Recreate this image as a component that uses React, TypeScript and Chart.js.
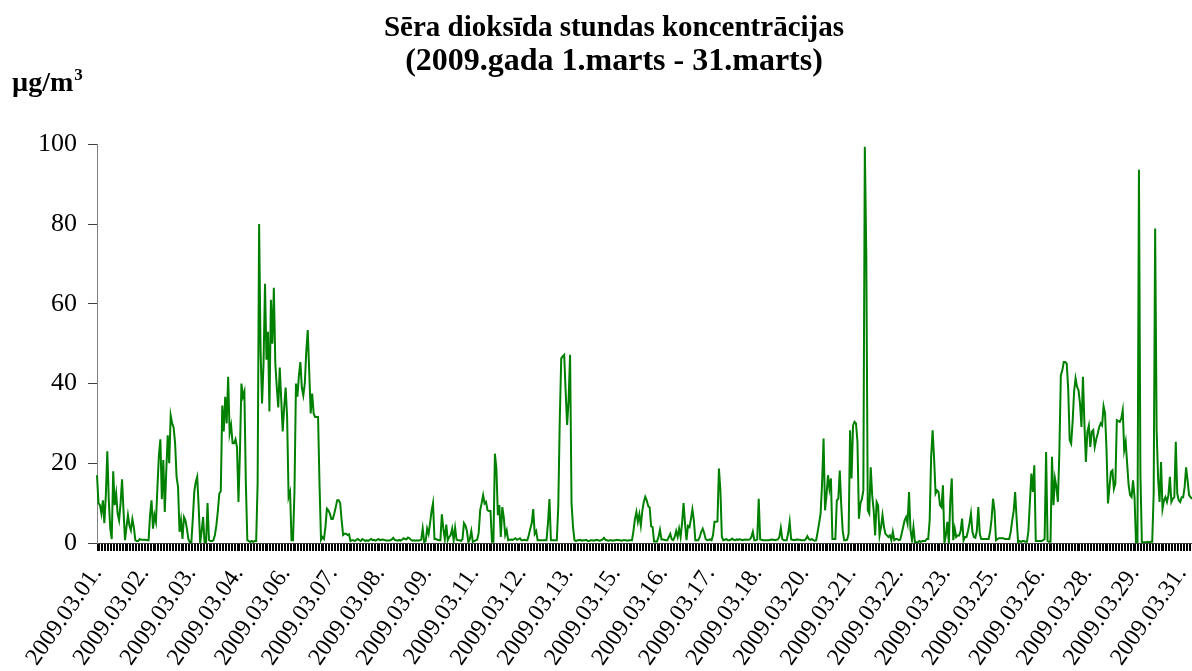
import { useEffect, useRef } from 'react';
import { Chart, registerables } from 'chart.js';

Chart.register(...registerables);

const TITLE = 'Sēra dioksīda stundas koncentrācijas';
const SUBTITLE = '(2009.gada 1.marts - 31.marts)';
const UNIT = 'µg/m';
const UNIT_SUP = '3';

// Tick labels shown along the category axis (one every LABEL_STEP hours)
const tickLabels = [
  '2009.03.01.', '2009.03.02.', '2009.03.03.', '2009.03.04.', '2009.03.06.', '2009.03.07.',
  '2009.03.08.', '2009.03.09.', '2009.03.11.', '2009.03.12.', '2009.03.13.', '2009.03.15.',
  '2009.03.16.', '2009.03.17.', '2009.03.18.', '2009.03.20.', '2009.03.21.', '2009.03.22.',
  '2009.03.23.', '2009.03.25.', '2009.03.26.', '2009.03.28.', '2009.03.29.', '2009.03.31.',
];
const LABEL_STEP = 32;

// Hourly SO2 concentrations (µg/m³), one array per day, 24 values each
const mar01 = [17, 10, 9.5, 7.4, 10.7, 5, 12, 23, 10.7, 3.6, 1, 18, 9.5, 12.4, 7.4, 5.7, 10, 16, 8, 0.7, 4, 7, 4.4, 3.2];
const mar02 = [6, 4, 0.7, 0.5, 0.5, 1, 0.8, 0.8, 0.8, 0.8, 0.7, 0.7, 7, 10.7, 3.6, 7, 5.3, 14, 22, 26, 11, 20.8, 7.8, 18];
const mar03 = [27, 20, 32, 30, 29, 25, 16.6, 14, 2.8, 5.7, 1, 6.5, 5.7, 3.6, 1, 0.2, 0, 6, 12.8, 15.3, 16.6, 9, 0, 3];
const mar04 = [6.5, 0, 0, 10, 0.7, 0.5, 0.5, 0.7, 2, 4.4, 8, 12.4, 13, 34.5, 28, 36.7, 30, 41.7, 27.5, 29.5, 25, 25, 26, 24];
const mar05 = [10.3, 23, 40, 36.7, 38, 15, 0.7, 0.5, 0.3, 0.5, 0.3, 0.5, 0.5, 15, 80, 48, 35, 45, 65, 46, 53, 33, 61, 50];
const mar06 = [64, 45, 39, 34, 44, 36, 28, 34, 39, 31.6, 11.5, 12.8, 0.7, 0.7, 13, 40, 36.7, 42, 45.4, 39, 37, 40, 48, 53.4];
const mar07 = [43, 32.5, 37.5, 32.5, 31.6, 31.6, 31.6, 14.5, 0.8, 1.5, 1, 4, 8.6, 8.2, 7.4, 6, 6, 7.4, 9, 10.7, 10.7, 10, 5.7, 2];
const mar08 = [2.3, 2.3, 2, 2.2, 0.5, 0.7, 0.7, 0.5, 0.8, 1, 0.7, 0.5, 1, 0.8, 0.5, 0.7, 0.5, 0.8, 1, 0.7, 0.8, 0.6, 0.8, 1];
const mar09 = [0.7, 0.8, 0.9, 0.8, 0.6, 0.6, 0.6, 0.7, 0.9, 1.3, 0.8, 0.7, 0.6, 0.8, 0.6, 0.8, 1.2, 1, 0.9, 1.4, 1.2, 0.8, 0.6, 0.7];
const mar10 = [0.6, 0.7, 0.6, 0.7, 0.8, 3.6, 0.2, 0.5, 3.6, 2.3, 5, 8, 10, 1, 1, 0.8, 0.7, 0.7, 7.2, 3.6, 1, 4.6, 0.7, 1.5];
const mar11 = [2, 3.6, 0.7, 3.8, 0.8, 0.7, 0.7, 0.5, 1, 5, 4.4, 3, 0.2, 1, 3, 0.3, 0.5, 0.7, 0.8, 2.6, 8.2, 10, 12, 9.9];
const mar12 = [10.3, 8.2, 8, 8, 0.3, 0.3, 22.4, 18.7, 7, 9.5, 1.5, 9, 6.5, 2, 3.2, 0.7, 0.8, 0.9, 0.8, 1, 1.2, 0.8, 1, 1.2];
const mar13 = [0.7, 0.7, 0.8, 0.7, 0.7, 2, 3.6, 5, 8.5, 2.3, 3, 0.7, 0.7, 0.7, 0.7, 0.7, 0.7, 0.7, 5, 11, 0.7, 0.7, 0.7, 0.7];
const mar14 = [0.7, 9.3, 30.8, 46.3, 46.8, 47.2, 38, 29.6, 35.8, 47.2, 9.9, 4, 0.7, 0.5, 0.7, 0.7, 0.8, 0.6, 0.7, 0.7, 0.8, 0.5, 0.5, 0.7];
const mar15 = [0.7, 0.6, 0.7, 0.8, 0.7, 0.6, 0.7, 0.9, 1.3, 0.8, 0.7, 0.6, 0.7, 0.7, 0.6, 0.7, 0.7, 0.8, 0.7, 0.7, 0.6, 0.7, 0.7, 0.7];
const mar16 = [0.6, 0.7, 0.7, 0.7, 3, 6, 7.8, 5.3, 7.2, 4.4, 8, 10.3, 11.6, 10.7, 9.3, 8.9, 4.2, 4, 0.4, 0.4, 0.4, 1.5, 3.3, 0.9];
const mar17 = [0.9, 0.8, 0.7, 0.7, 1.5, 2.3, 0.9, 0.7, 1.5, 3, 1.5, 3.6, 1.5, 5, 10, 4.9, 0.7, 4.3, 4, 6, 8.4, 5.7, 0.7, 0.7];
const mar18 = [0.7, 1.5, 2.8, 3.6, 2.5, 1, 0.7, 0.8, 0.9, 0.7, 2, 5.3, 5.3, 5.4, 18.7, 13.2, 1.5, 0.7, 0.8, 1, 0.7, 0.7, 0.8, 1.1];
const mar19 = [0.8, 0.7, 0.9, 0.8, 1, 0.8, 0.7, 0.8, 0.9, 0.8, 0.8, 0.9, 1.5, 2.8, 0.7, 0.7, 0.9, 11.1, 0.9, 0.8, 0.7, 0.7, 0.7, 0.7];
const mar20 = [0.7, 0.8, 0.9, 0.8, 0.7, 0.8, 0.9, 1.5, 3.8, 1, 0.7, 0.7, 0.7, 2.5, 5.3, 0.9, 0.8, 0.7, 0.8, 0.9, 0.8, 0.8, 0.7, 0.7];
const mar21 = [0.7, 1, 1.7, 1, 0.8, 1, 0.7, 0.6, 0.7, 2.8, 5, 7.4, 15, 26.2, 8.2, 12, 17, 13.6, 16.2, 1, 1, 1, 10.7, 11.1];
const mar22 = [18.2, 9.5, 3, 0.7, 0.7, 0.8, 2.3, 28.3, 16.2, 29.5, 30.4, 30, 25.4, 6.1, 9.9, 11, 13.2, 99.4, 72, 8.2, 7.4, 19, 12, 8.2];
const mar23 = [1.9, 10.3, 9.5, 1.9, 4, 7, 4, 2.3, 1.9, 1.5, 1.9, 0.7, 2.8, 0.7, 1, 1, 0.7, 0.8, 2.3, 4, 5.7, 6.5, 4.9, 12.8];
const mar24 = [3.2, 0.7, 4, 0.2, 0.2, 0.2, 0.5, 0.3, 0.5, 0.5, 0.5, 1, 1, 5.7, 21.6, 28.3, 21.2, 12.4, 13.2, 12.8, 9.5, 9, 14.5, 0];
const mar25 = [2, 5.3, 0, 10.7, 16.2, 0.7, 3.6, 1.5, 1.9, 1.9, 3, 6.1, 0.7, 1.5, 1.5, 3, 4.9, 7.4, 2.8, 1.5, 1.3, 3, 9, 2.3];
const mar26 = [1, 1, 1, 1, 1, 1, 2.8, 6, 11.1, 8.2, 0.7, 1, 1.2, 1.2, 1.2, 1.2, 1, 1, 1, 1, 2.8, 5.7, 8, 12.8];
const mar27 = [6.1, 0.2, 0.5, 0.3, 0.5, 0.5, 0.3, 0.3, 3, 10.3, 17.4, 12.8, 19.5, 0.5, 0.5, 0.5, 0.5, 0.5, 0.7, 1, 22.8, 0.5, 0.3, 0.3];
const mar28 = [21.6, 9.5, 16.2, 14, 10.3, 22.8, 42.1, 43.3, 45.4, 45.4, 45, 38.7, 25.8, 24.9, 30.4, 38, 41.3, 39.2, 38.3, 35, 29.1, 41.7, 30, 20.3];
const mar29 = [27.9, 29.5, 24.1, 27.9, 28.3, 24.1, 26, 27.4, 29, 30, 29.5, 34.3, 32.5, 23.3, 9.9, 14, 17.8, 18.2, 13.6, 14.9, 30.8, 30.6, 30.4, 31.2];
const mar30 = [33.3, 23.3, 25.4, 19.9, 14.5, 12, 11.5, 15.7, 11.5, 0.2, 0.2, 93.6, 17, 0, 0.2, 0.2, 0.2, 0.3, 0.2, 0.3, 0.3, 12.4, 78.9, 28.3];
const mar31 = [16.2, 10.3, 20.3, 8.6, 10.7, 11.5, 10.3, 12, 16.6, 10.3, 11.1, 11.5, 25.4, 12.4, 10.7, 10.3, 11.5, 11.5, 14, 19, 15.7, 12, 11.5, 11.1];

const hourly = [
  ...mar01, ...mar02, ...mar03, ...mar04, ...mar05, ...mar06, ...mar07, ...mar08,
  ...mar09, ...mar10, ...mar11, ...mar12, ...mar13, ...mar14, ...mar15, ...mar16,
  ...mar17, ...mar18, ...mar19, ...mar20, ...mar21, ...mar22, ...mar23, ...mar24,
  ...mar25, ...mar26, ...mar27, ...mar28, ...mar29, ...mar30, ...mar31,
];

const Y_MIN = 0;
const Y_MAX = 100;
const Y_STEP = 20;

const FONT = '"Liberation Serif", "Times New Roman", serif';

const unitPlugin = {
  id: 'unitLabel',
  afterDraw(chart: any) {
    const ctx = chart.ctx as CanvasRenderingContext2D;
    ctx.save();
    ctx.fillStyle = '#000';
    ctx.textAlign = 'left';
    ctx.textBaseline = 'alphabetic';
    ctx.font = `bold 28px ${FONT}`;
    ctx.fillText(UNIT, 12, 91);
    const w = ctx.measureText(UNIT).width;
    ctx.font = `bold 17px ${FONT}`;
    ctx.fillText(UNIT_SUP, 12 + w + 1, 80);
    ctx.restore();
  },
};

export default function App() {
  const ref = useRef<HTMLCanvasElement>(null);

  useEffect(() => {
    document.body.style.margin = '0';
    const canvas = ref.current;
    if (!canvas) return;
    const labels = hourly.map((_, i) => String(i));
    const chart = new Chart(canvas, {
      type: 'line',
      data: {
        labels,
        datasets: [
          {
            data: hourly,
            borderColor: '#008000',
            borderWidth: 2,
            pointRadius: 0,
            pointHoverRadius: 0,
            tension: 0,
            fill: false,
          },
        ],
      },
      options: {
        animation: false,
        responsive: false,
        maintainAspectRatio: false,
        events: [],
        layout: { padding: { left: 36, right: 0, top: 0, bottom: 0 } },
        plugins: {
          legend: { display: false },
          tooltip: { enabled: false },
          title: {
            display: true,
            text: TITLE,
            color: '#000',
            font: { family: FONT, size: 29, weight: 'bold', lineHeight: 1.15 },
            padding: { top: 12, bottom: 0 },
          },
          subtitle: {
            display: true,
            text: SUBTITLE,
            color: '#000',
            font: { family: FONT, size: 32, weight: 'bold', lineHeight: 1.0 },
            padding: { top: 0, bottom: 67 },
          },
        },
        scales: {
          x: {
            type: 'category',
            offset: false,
            grid: {
              drawOnChartArea: false,
              drawTicks: true,
              tickLength: 8,
              color: '#000',
              lineWidth: 1,
              offset: false,
            },
            border: { color: '#404040', width: 1 },
            ticks: {
              autoSkip: false,
              minRotation: 55,
              maxRotation: 55,
              padding: 10,
              color: '#000',
              font: { family: FONT, size: 24 },
              callback: (_v: any, i: number) =>
                i % LABEL_STEP === 0 ? tickLabels[i / LABEL_STEP] ?? '' : '',
            },
            afterFit: (s: any) => {
              s.height = 128;
              s.paddingRight = 0;
              s.paddingLeft = 0;
            },
          },
          y: {
            min: Y_MIN,
            max: Y_MAX,
            grid: {
              drawOnChartArea: false,
              drawTicks: true,
              tickLength: 9,
              color: '#404040',
            },
            border: { color: '#808080', width: 1 },
            ticks: {
              stepSize: Y_STEP,
              padding: 11,
              color: '#000',
              font: { family: FONT, size: 26 },
            },
            afterFit: (s: any) => {
              s.width = 61;
            },
          },
        },
      },
      plugins: [unitPlugin],
    });
    return () => chart.destroy();
  }, []);

  return (
    <div style={{ width: 1192, height: 671, overflow: 'hidden' }}>
      <canvas ref={ref} width={1192} height={671} style={{ display: 'block' }} />
    </div>
  );
}
